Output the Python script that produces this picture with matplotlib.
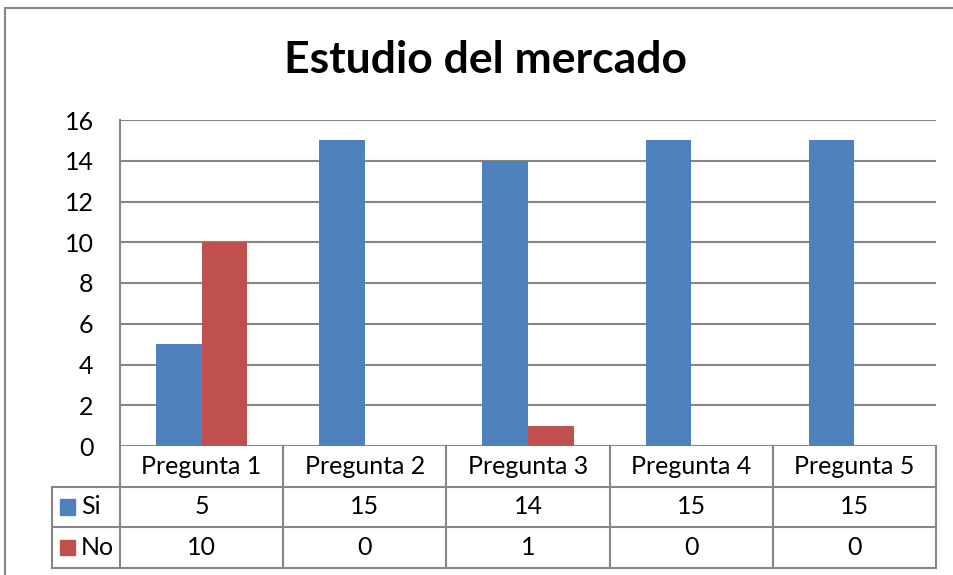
import numpy as np
import matplotlib.pyplot as plt
import matplotlib as mpl

plt.rcParams.update({'font.family': 'Lato'})

categorias = ["Pregunta 1", "Pregunta 2", "Pregunta 3", "Pregunta 4", "Pregunta 5"]
series = ["Si", "No"]
valores_si = [5, 15, 14, 15, 15]
valores_no = [10, 0, 1, 0, 0]
colores = ["#4F81BD", "#C0504D"]
gris = "#868686"

W, H = 954, 575
fig = plt.figure(figsize=(W / 100, H / 100), dpi=100)

def px_axes(x0, y0, x1, y1):
    # pixel box (top-left origin) -> figure axes
    return fig.add_axes([x0 / W, 1 - y1 / H, (x1 - x0) / W, (y1 - y0) / H])

# outer chart frame
frame = plt.Rectangle((5 / W, -0.1), 1.2, 1 - 8 / H + 0.1, transform=fig.transFigure,
                      fill=False, edgecolor=gris, lw=1.5)
fig.patches.append(frame)

fig.text(486 / W, 1 - 60 / H, "Estudio del mercado", ha='center', va='center',
         fontsize=32, fontweight='bold')

# main bar plot
ax = px_axes(120, 120, 936, 446)
x = np.arange(len(categorias))
bw = 0.28
ax.bar(x - bw / 2, valores_si, bw, color=colores[0], zorder=3)
ax.bar(x + bw / 2, valores_no, bw, color=colores[1], zorder=3)
ax.set_xlim(-0.5, len(categorias) - 0.5)
ax.set_ylim(0, 16)
ax.set_yticks(range(0, 17, 2))
ax.yaxis.grid(True, color=gris, lw=1.5, zorder=0)
ax.set_xticks([])
for s in ['top', 'right', 'bottom']:
    ax.spines[s].set_visible(False)
ax.spines['left'].set_color(gris)
ax.spines['left'].set_linewidth(1.5)
ax.tick_params(axis='y', length=0, pad=19, labelsize=18)

# data table below the plot
tab = px_axes(120, 446, 936, 568)
tab.set_xlim(-0.5, len(categorias) - 0.5)
tab.set_ylim(3, 0)
tab.axis('off')
col_w = 816 / len(categorias)
leg_x = -0.5 - 68 / col_w
kw = dict(color=gris, lw=1.5, clip_on=False)
for b in np.arange(-0.5, len(categorias), 1.0):
    tab.plot([b, b], [0, 3], **kw)
for r in [1, 2, 3]:
    tab.plot([leg_x, len(categorias) - 0.5], [r, r], **kw)
tab.plot([leg_x, leg_x], [1, 3], **kw)

for i, c in enumerate(categorias):
    tab.text(i, 0.5, c, ha='center', va='center', fontsize=18)
for r, (nombre, vals, col) in enumerate(zip(series, [valores_si, valores_no], colores)):
    y = r + 1.5
    for i, v in enumerate(vals):
        tab.text(i, y, str(v), ha='center', va='center', fontsize=18)
    tab.add_patch(plt.Rectangle((leg_x + 8 / col_w, y - 0.185), 15 / col_w, 0.37,
                                color=col, clip_on=False))
    tab.text(leg_x + 29 / col_w, y, nombre, ha='left', va='center', fontsize=18)

fig.savefig("out.png", dpi=100)
